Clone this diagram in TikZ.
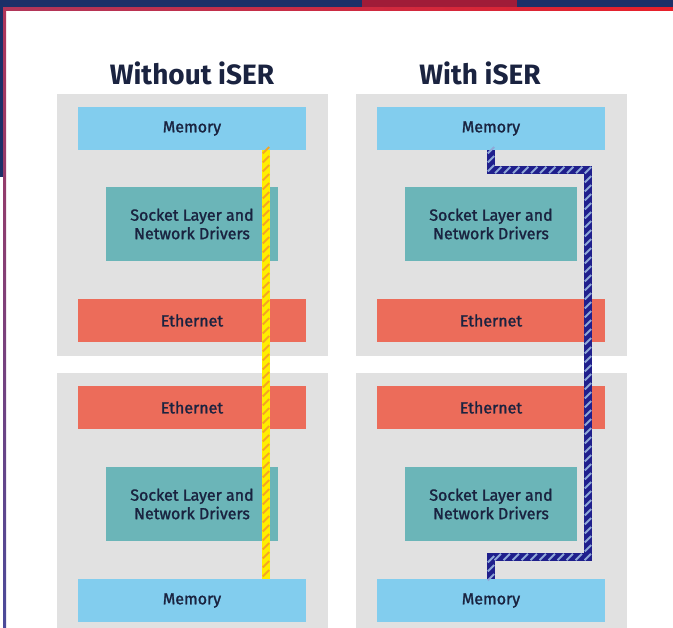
\documentclass[tikz,border=0pt]{standalone}
\usepackage{fontspec}
\setmainfont{Fira Sans}
\newfontfamily\labelfont{Fira Sans}[FakeBold=1.5]
\usetikzlibrary{decorations.markings}

\definecolor{panelgray}{HTML}{E1E1E1}
\definecolor{memblue}{HTML}{82CDEE}
\definecolor{sockteal}{HTML}{6BB5B8}
\definecolor{ethred}{HTML}{EC6C5A}
\definecolor{inkblue}{HTML}{1A2340}
\definecolor{pathyellow}{HTML}{FFEE00}
\definecolor{pathorange}{HTML}{F5A623}
\definecolor{pathnavy}{HTML}{1F1F8C}
\definecolor{pathlight}{HTML}{8FA8D8}
\definecolor{photonavy}{HTML}{1C3068}
\definecolor{photored}{HTML}{A01C38}
\definecolor{edgecrimson}{HTML}{B0365A}
\definecolor{edgered}{HTML}{E8202A}
\definecolor{edgeindigo}{HTML}{4A4A9A}

\tikzset{
    layerbox/.style={
        rectangle,
        inner sep=0,
        text=inkblue, % dark label text
        font=\labelfont\fontsize{16}{18.5}\selectfont,
        align=center
    },
    membox/.style={
        layerbox,
        fill=memblue, % light blue
        minimum width=228pt,
        minimum height=43pt
    },
    ethbox/.style={
        layerbox,
        fill=ethred, % salmon red
        minimum width=228pt,
        minimum height=43pt
    },
    sockbox/.style={
        layerbox,
        fill=sockteal, % teal
        minimum width=172pt,
        minimum height=74pt
    },
    hostpanel/.style={
        fill=panelgray
    },
    titletext/.style={
        text=inkblue,
        inner sep=0,
        font=\bfseries\fontsize{28}{32}\selectfont
    },
    stripes/.style={
        postaction={decorate},
        decoration={
            markings,
            mark=between positions 0 and 1 step 9pt with {
                \pgftransformresetnontranslations
                \draw[#1, line width=2pt] (-3.2pt,-3.2pt) -- (3.2pt,3.2pt);
            }
        }
    },
    plainlink/.style={
        draw=pathyellow,
        line width=8pt,
        stripes=pathorange % orange slashes
    },
    iserlink/.style={
        draw=pathnavy,
        line width=8pt,
        line join=miter,
        stripes=pathlight % pale blue slashes
    }
}

\begin{document}
\begin{tikzpicture}[x=1pt, y=-1pt]
    \useasboundingbox (0,0) rectangle (673,628);
    % backdrop and frame edge
    \fill[photonavy] (0,0) rectangle (673,10);
    \fill[photonavy] (0,0) rectangle (3,177);
    \fill[photored] (362,0) rectangle (517,8);
    \shade[left color=edgecrimson, right color=edgered] (3,8) rectangle (673,11);
    \shade[top color=edgecrimson, bottom color=edgeindigo] (3,8) rectangle (6,628);

    % grey host panels
    \fill[hostpanel] (57,94) rectangle (328,356);
    \fill[hostpanel] (57,373) rectangle (328,628);
    \fill[hostpanel] (356,94) rectangle (627,356);
    \fill[hostpanel] (356,373) rectangle (627,628);

    \node[titletext] (titleA) at (192,73) {Without iSER};
    \node[titletext] (titleB) at (480,73) {With iSER};

    % without iSER
    \node[membox] (memA) at (192,128.5) {Memory};
    \node[sockbox] (sockA) at (192,224) {Socket Layer and\\Network Drivers};
    \node[ethbox] (ethA) at (192,320.5) {Ethernet};
    \node[ethbox] (ethA2) at (192,407.5) {Ethernet};
    \node[sockbox] (sockA2) at (192,504) {Socket Layer and\\Network Drivers};
    \node[membox] (memA2) at (192,600.5) {Memory};

    % with iSER
    \node[membox] (memB) at (491,128.5) {Memory};
    \node[sockbox] (sockB) at (491,224) {Socket Layer and\\Network Drivers};
    \node[ethbox] (ethB) at (491,320.5) {Ethernet};
    \node[ethbox] (ethB2) at (491,407.5) {Ethernet};
    \node[sockbox] (sockB2) at (491,504) {Socket Layer and\\Network Drivers};
    \node[membox] (memB2) at (491,600.5) {Memory};

    % data paths
    \draw[plainlink] ([xshift=74pt]memA.south) -- ([xshift=74pt]memA2.north);
    \coordinate (bendT) at (588,170);
    \coordinate (bendB) at (588,557);
    \draw[iserlink] (memB.south) |- (bendT) -- (bendB) -| (memB2.north);
\end{tikzpicture}
\end{document}
